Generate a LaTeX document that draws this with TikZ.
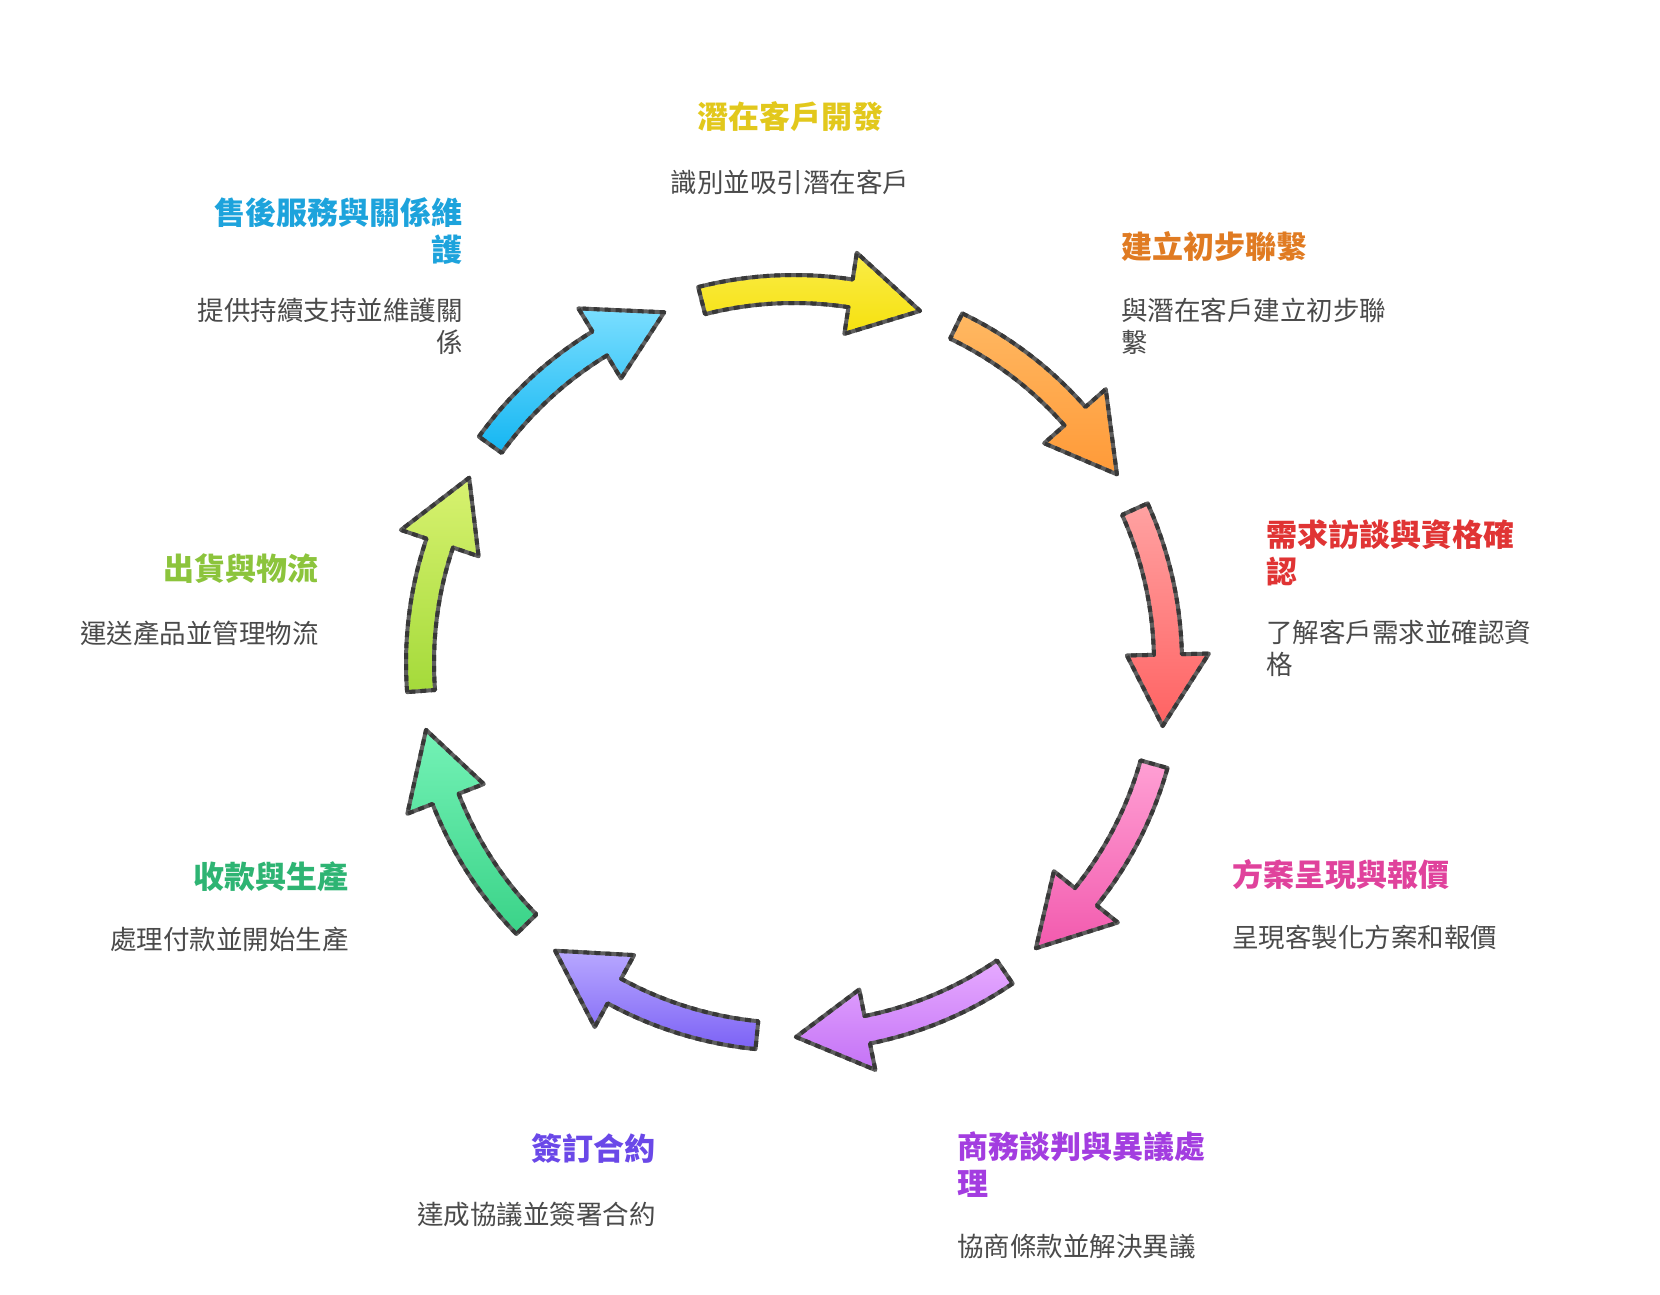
\documentclass[tikz,border=0pt]{standalone}
\usepackage{fontspec}
\newfontfamily\cjk{Noto Sans CJK TC}
\definecolor{desc}{HTML}{4A4A4A}
\definecolor{lineg}{HTML}{5E5E5E}
\definecolor{lined}{HTML}{383838}
% title colours
\definecolor{tYel}{HTML}{E2C81C}
\definecolor{tOra}{HTML}{E07B22}
\definecolor{tRed}{HTML}{E03434}
\definecolor{tPnk}{HTML}{E0429C}
\definecolor{tPur}{HTML}{A33DE0}
\definecolor{tVio}{HTML}{6A48E8}
\definecolor{tGrn}{HTML}{2EB473}
\definecolor{tLim}{HTML}{8CC43C}
\definecolor{tBlu}{HTML}{1DA3DC}
% arrow fills (top / bottom)
\definecolor{aYelT}{HTML}{FAEC48}\definecolor{aYelB}{HTML}{F6E10E}
\definecolor{aOraT}{HTML}{FFB862}\definecolor{aOraB}{HTML}{FF9A38}
\definecolor{aRedT}{HTML}{FFA2A2}\definecolor{aRedB}{HTML}{FF6262}
\definecolor{aPnkT}{HTML}{FFA0D4}\definecolor{aPnkB}{HTML}{F25AAE}
\definecolor{aPurT}{HTML}{E6AAFF}\definecolor{aPurB}{HTML}{C472F6}
\definecolor{aVioT}{HTML}{B8A8FF}\definecolor{aVioB}{HTML}{7C62F5}
\definecolor{aGrnT}{HTML}{74F2B6}\definecolor{aGrnB}{HTML}{3AD388}
\definecolor{aLimT}{HTML}{D8F270}\definecolor{aLimB}{HTML}{A4DA3A}
\definecolor{aBluT}{HTML}{7ADEFF}\definecolor{aBluB}{HTML}{14B6F2}
\newcommand\cycarrow[3]{%
  \pgfmathsetmacro\aT{#1+17}%
  \pgfmathsetmacro\aH{#1-6}%
  \pgfmathsetmacro\aP{#1-17}%
  \shadedraw[arrline, top color=#2, bottom color=#3]
    (\aT:388) arc[start angle=\aT, end angle=\aH, radius=388]
    -- (\aH:415) -- (\aP:374) -- (\aH:333) -- (\aH:360)
    arc[start angle=\aH, end angle=\aT, radius=360] -- cycle;}
\begin{document}
\begin{tikzpicture}[x=1pt,y=1pt,
  ttl/.style={font=\cjk\bfseries\fontsize{31}{37}\selectfont, inner sep=0pt},
  dsc/.style={font=\cjk\fontsize{26.5}{31.5}\selectfont, text=desc, inner sep=0pt},
  arrline/.style={draw=lineg, line width=4pt, line join=round,
    postaction={draw=lined, line width=4pt, dash pattern=on 6pt off 5pt}}]
\fill[white] (0,0) rectangle (1660,-1294);
\useasboundingbox (0,0) rectangle (1660,-1294);
\begin{scope}[shift={(794,-663)}]
  \cycarrow{87.3}{aYelT}{aYelB}
  \cycarrow{47.3}{aOraT}{aOraB}
  \cycarrow{7.3}{aRedT}{aRedB}
  \cycarrow{-32.7}{aPnkT}{aPnkB}
  \cycarrow{-72.7}{aPurT}{aPurB}
  \cycarrow{-112.7}{aVioT}{aVioB}
  \cycarrow{-152.7}{aGrnT}{aGrnB}
  \cycarrow{167.3}{aLimT}{aLimB}
  \cycarrow{127.3}{aBluT}{aBluB}
\end{scope}
% texts
\node[ttl, text=tYel, anchor=north, align=center] (t1) at (790,-101) {潛在客戶開發};
\node[dsc, anchor=north, align=center] (d1) at (790,-170) {識別並吸引潛在客戶};
\node[ttl, text=tOra, anchor=north west, align=left] (t2) at (1121,-231) {建立初步聯繫};
\node[dsc, anchor=north west, align=left] (d2) at (1121,-298) {與潛在客戶建立初步聯\\繫};
\node[ttl, text=tRed, anchor=north west, align=left] (t3) at (1266,-520) {需求訪談與資格確\\認};
\node[dsc, anchor=north west, align=left] (d3) at (1266,-620) {了解客戶需求並確認資\\格};
\node[ttl, text=tPnk, anchor=north west, align=left] (t4) at (1232,-859) {方案呈現與報價};
\node[dsc, anchor=north west, align=left] (d4) at (1232,-925) {呈現客製化方案和報價};
\node[ttl, text=tPur, anchor=north west, align=left] (t5) at (957,-1131) {商務談判與異議處\\理};
\node[dsc, anchor=north west, align=left] (d5) at (957,-1234) {協商條款並解決異議};
\node[ttl, text=tVio, anchor=north east, align=right] (t6) at (656,-1133) {簽訂合約};
\node[dsc, anchor=north east, align=right] (d6) at (656,-1202) {達成協議並簽署合約};
\node[ttl, text=tGrn, anchor=north east, align=right] (t7) at (349,-861) {收款與生產};
\node[dsc, anchor=north east, align=right] (d7) at (349,-927) {處理付款並開始生產};
\node[ttl, text=tLim, anchor=north east, align=right] (t8) at (319,-553) {出貨與物流};
\node[dsc, anchor=north east, align=right] (d8) at (319,-621) {運送產品並管理物流};
\node[ttl, text=tBlu, anchor=north east, align=right] (t9) at (463,-197) {售後服務與關係維\\護};
\node[dsc, anchor=north east, align=right] (d9) at (463,-298) {提供持續支持並維護關\\係};
\end{tikzpicture}
\end{document}
